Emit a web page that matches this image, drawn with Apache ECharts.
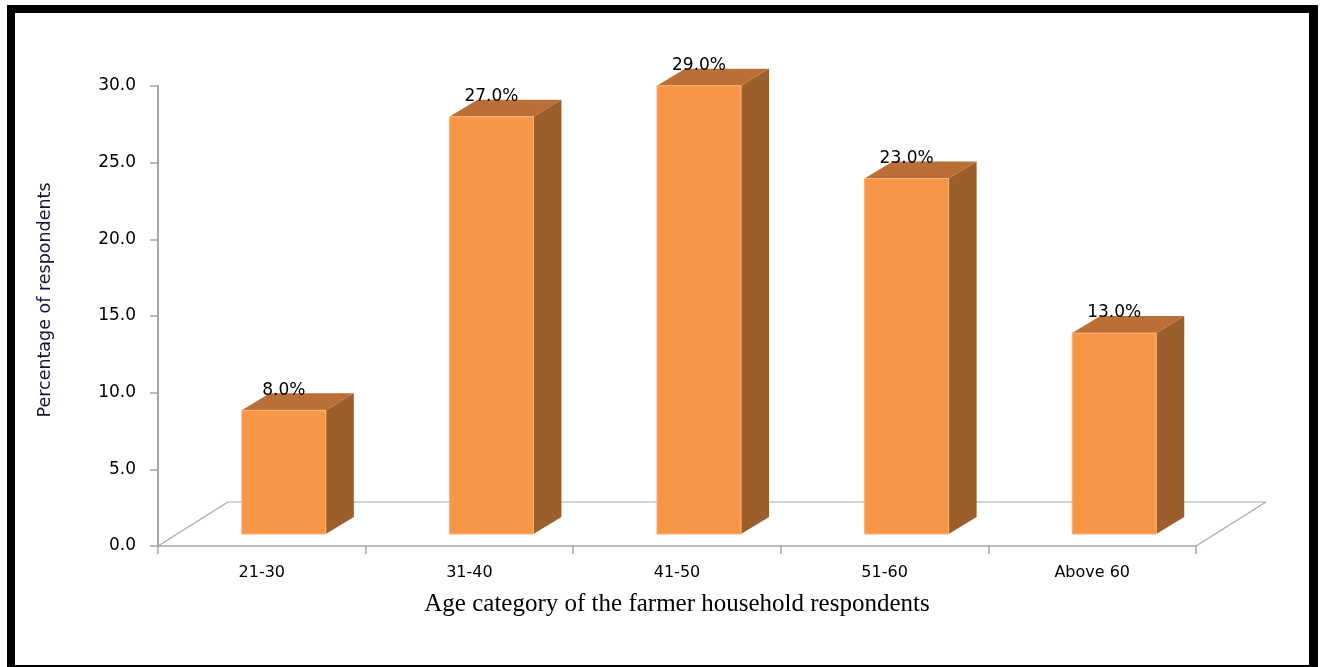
<!DOCTYPE html>
<html>
<head>
<meta charset="utf-8">
<script src="https://cdn.jsdelivr.net/npm/echarts@6/dist/echarts.min.js"></script>
<style>
  html, body { margin: 0; padding: 0; background: #fff; }
  #chart { width: 1320px; height: 667px; }
</style>
</head>
<body>
<div id="chart"></div>
<script>
// age groups and share of respondents (%)
const categories = ['21-30', '31-40', '41-50', '51-60', 'Above 60']
const percents = [8.0, 27.0, 29.0, 23.0, 13.0]
const yTicks = { min: 0, max: 30, interval: 5 }

// fake 3d look, in pixels
const BAR_SHIFT = [22, 12]   // bars sit a little way back on the floor
const BAR_DEPTH = [28, 17]   // side / top face offset
const FLOOR_DEPTH = [70, 44]

const chart = echarts.init(document.getElementById('chart'), null, { renderer: 'canvas' })

function floorItem(params, api) {
  const i = api.value(0)
  const base = api.coord([i, 0])
  const band = api.size([1, 0])[0]
  const line = { stroke: '#a6a6a6', lineWidth: 1.2 }
  const left = base[0] - band / 2
  const right = base[0] + band / 2
  const children = [{
    type: 'line',
    shape: { x1: left + FLOOR_DEPTH[0], y1: base[1] - FLOOR_DEPTH[1], x2: right + FLOOR_DEPTH[0], y2: base[1] - FLOOR_DEPTH[1] },
    style: line
  }]
  if (i === 0) {
    children.push({ type: 'line', shape: { x1: left, y1: base[1], x2: left + FLOOR_DEPTH[0], y2: base[1] - FLOOR_DEPTH[1] }, style: line })
  }
  if (i === categories.length - 1) {
    children.push({ type: 'line', shape: { x1: right, y1: base[1], x2: right + FLOOR_DEPTH[0], y2: base[1] - FLOOR_DEPTH[1] }, style: line })
  }
  return { type: 'group', children }
}

function barItem(params, api) {
  const i = api.value(0)
  const v = api.value(1)
  const base = api.coord([i, 0])
  const top = api.coord([i, v])
  const band = api.size([1, 0])[0]
  const w = band * 0.405
  const x0 = base[0] - w / 2 + BAR_SHIFT[0]
  const x1 = x0 + w
  const yb = base[1] - BAR_SHIFT[1]
  // front face is drawn a touch taller than the axis scale, like the original
  const yt = yb - (base[1] - top[1]) * 1.008
  const dx = BAR_DEPTH[0], dy = BAR_DEPTH[1]
  return {
    type: 'group',
    children: [
      {
        type: 'polygon',
        shape: { points: [[x1, yt], [x1 + dx, yt - dy], [x1 + dx, yb - dy], [x1, yb]] },
        style: { fill: '#9c5f2c' }
      },
      {
        type: 'polygon',
        shape: { points: [[x0, yt], [x0 + dx, yt - dy], [x1 + dx, yt - dy], [x1, yt]] },
        style: { fill: '#b96f36' }
      },
      {
        type: 'rect',
        shape: { x: x0, y: yt, width: w, height: yb - yt },
        style: { fill: '#f79646', stroke: '#fbb57c', lineWidth: 1 }
      },
      {
        type: 'text',
        x: x0 + w / 2,
        y: yt - 20,
        style: {
          text: v.toFixed(1) + '%',
          align: 'center',
          verticalAlign: 'middle',
          fill: '#000',
          font: '17px "DejaVu Sans"'
        }
      }
    ]
  }
}

chart.setOption({
  backgroundColor: '#fff',
  animation: false,
  grid: { left: 158, right: 124, top: 86, bottom: 121 },
  xAxis: {
    type: 'category',
    data: categories,
    boundaryGap: true,
    name: 'Age category of the farmer household respondents',
    nameLocation: 'middle',
    nameGap: 46,
    nameTextStyle: { fontFamily: 'Liberation Serif', fontSize: 25, color: '#000' },
    axisLine: { lineStyle: { color: '#a6a6a6', width: 1.5 } },
    axisTick: { show: true, length: 8, lineStyle: { color: '#a6a6a6', width: 1.5 } },
    axisLabel: { margin: 19, fontFamily: 'DejaVu Sans', fontSize: 16, color: '#000' }
  },
  yAxis: {
    type: 'value',
    min: yTicks.min,
    max: yTicks.max,
    interval: yTicks.interval,
    splitLine: { show: false },
    axisLine: { show: true, lineStyle: { color: '#a6a6a6', width: 2 } },
    axisTick: { show: true, length: 8, lineStyle: { color: '#a6a6a6', width: 1.5 } },
    axisLabel: {
      margin: 22,
      fontFamily: 'DejaVu Sans',
      fontSize: 17,
      color: '#000',
      formatter: (val) => val.toFixed(1)
    }
  },
  graphic: [
    {
      type: 'text',
      x: 45,
      y: 300,
      rotation: Math.PI / 2,
      style: {
        text: 'Percentage of respondents',
        align: 'center',
        verticalAlign: 'middle',
        fill: '#141438',
        font: '17.5px "DejaVu Sans"'
      }
    },
    // picture frame
    { type: 'rect', shape: { x: 7, y: 5, width: 1311, height: 8 }, style: { fill: '#000' } },
    { type: 'rect', shape: { x: 7, y: 5, width: 8, height: 662 }, style: { fill: '#000' } },
    { type: 'rect', shape: { x: 1309, y: 5, width: 9, height: 662 }, style: { fill: '#000' } },
    { type: 'rect', shape: { x: 7, y: 665, width: 1311, height: 2 }, style: { fill: '#000' } }
  ],
  series: [
    {
      name: 'floor',
      type: 'custom',
      z: 1,
      renderItem: floorItem,
      data: categories.map((c, i) => [i, 0])
    },
    {
      name: 'Percentage of respondents',
      type: 'custom',
      z: 2,
      renderItem: barItem,
      data: percents.map((p, i) => [i, p])
    }
  ]
})
</script>
</body>
</html>
